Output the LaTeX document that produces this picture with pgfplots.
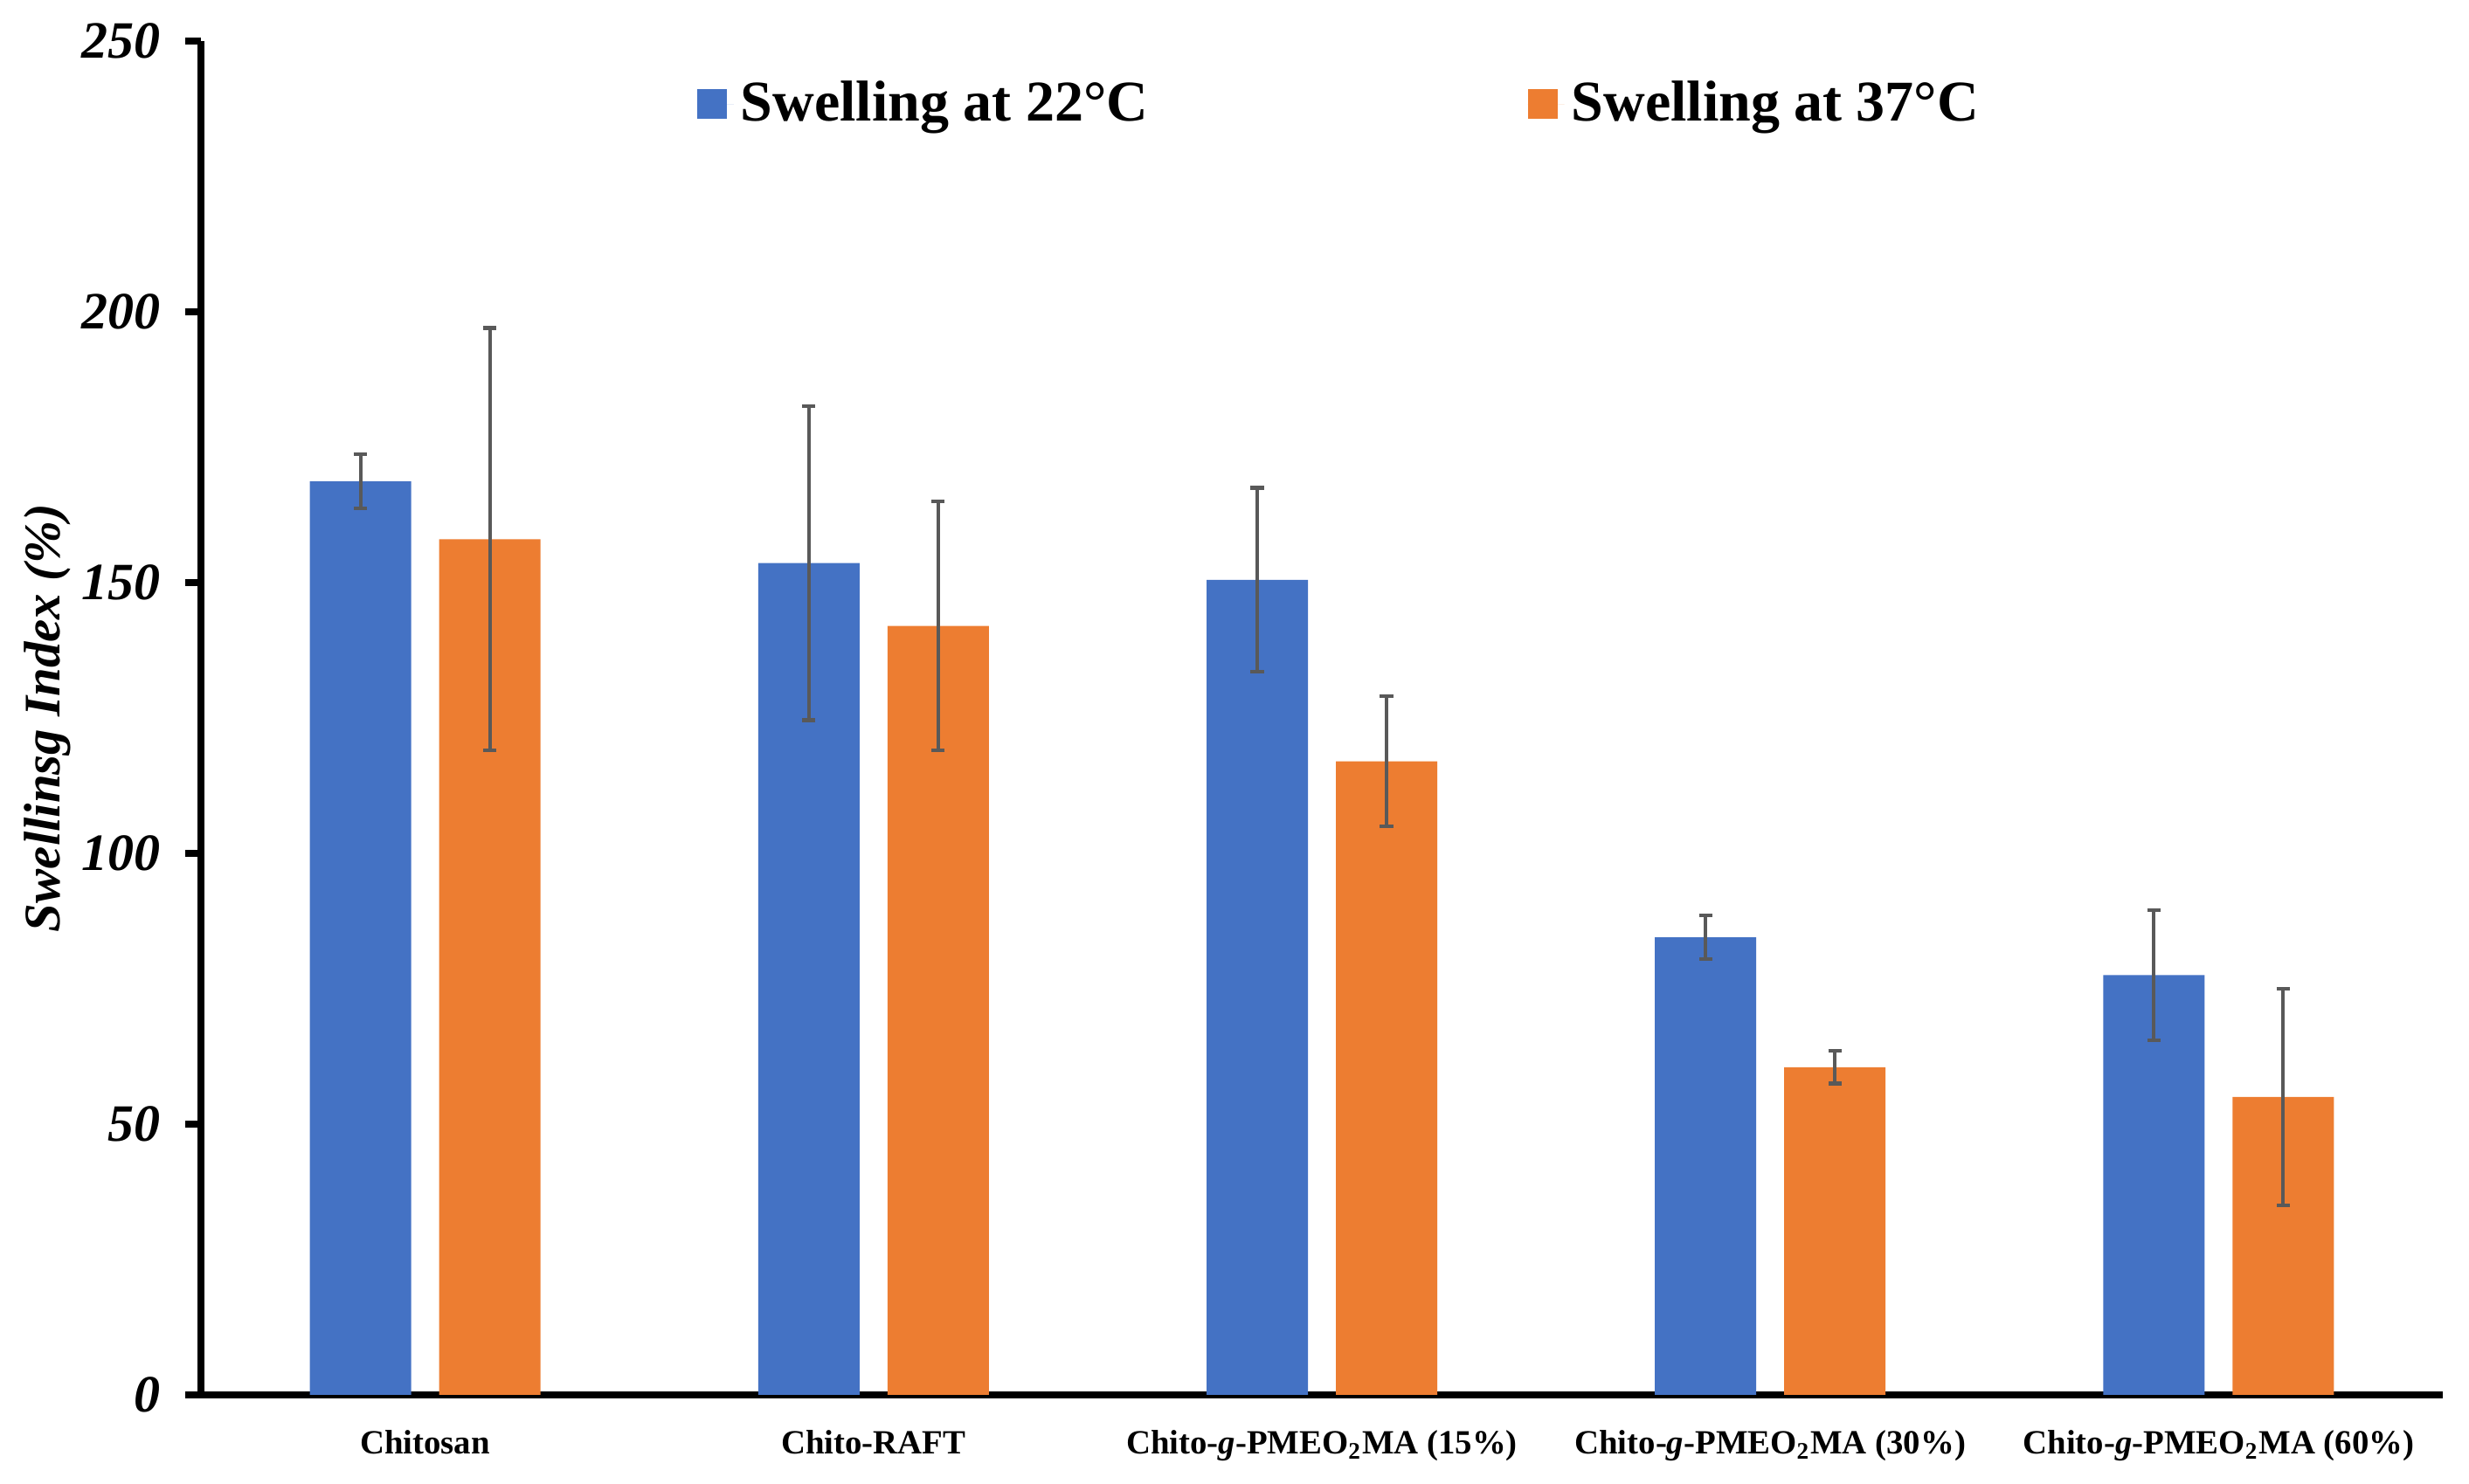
\documentclass[border=0pt]{standalone}
\usepackage{fontspec}
\setmainfont{Liberation Serif}
\usepackage{pgfplots}
\pgfplotsset{compat=1.18}
\definecolor{cblue}{HTML}{4472C4}
\definecolor{corange}{HTML}{ED7D31}
\definecolor{cerr}{HTML}{595959}
\begin{document}
\begin{tikzpicture}
\begin{axis}[
  name=ax,
  scale only axis, width=641.5pt, height=387.5pt,
  xmin=-0.5, xmax=4.5, ymin=0, ymax=250,
  axis x line=bottom, axis y line=left,
  axis line style={line width=2pt, -, black},
  x axis line style={shorten <=-4.5pt},
  xtick={0,1,2,3,4},
  xticklabels={Chitosan, Chito-RAFT, {Chito-\textit{g}-PMEO\textsubscript{2}MA (15\%)}, {Chito-\textit{g}-PMEO\textsubscript{2}MA (30\%)}, {Chito-\textit{g}-PMEO\textsubscript{2}MA (60\%)}},
  xtick style={draw=none},
  ytick={0,50,100,150,200,250},
  ytick style={line width=2pt, black},
  tick align=outside, major tick length=4.5pt,
  /pgf/number format/assume math mode=true,
  yticklabel style={font=\fontsize{15}{15}\selectfont\bfseries\itshape, xshift=-3.5pt},
  xticklabel style={font=\fontsize{9.7}{12}\selectfont\bfseries, anchor=north, yshift=-2pt},
  ylabel={Swellinsg Index (\%)},
  ylabel style={font=\fontsize{14.7}{14.7}\selectfont\bfseries\itshape, at={(axis description cs:-0.0686,0.5)}, anchor=center},
  ybar,
  error bars/y dir=both, error bars/y explicit,
  error bars/error mark=|,
  error bars/error bar style={line width=1pt, draw=cerr},
  error bars/error mark options={line width=1.1pt, draw=cerr, mark size=1.9pt},
  legend image code/.code={\fill[#1] (0pt,-4.25pt) rectangle (8.5pt,4.25pt); \path (0pt,0pt) -- (10.5pt,0pt);},
  legend columns=2,
  legend style={at={(axis description cs:0.221,0.9535)}, anchor=west, draw=none, fill=none, inner sep=0pt,
    font=\fontsize{16.5}{16.5}\selectfont\bfseries,
    /tikz/every even column/.append style={column sep=106.6pt}},
  legend cell align=left,
]
\addplot[fill=cblue, draw=none, bar width=29pt, bar shift=-18.5pt] coordinates {
  (0,168.7) +- (0,5)
  (1,153.6) +- (0,29)
  (2,150.5) +- (0,17)
  (3,84.5) +- (0,4)
  (4,77.5) +- (0,12)
};
\addplot[fill=corange, draw=none, bar width=29pt, bar shift=18.5pt] coordinates {
  (0,158) +- (0,39)
  (1,142) +- (0,23)
  (2,117) +- (0,12)
  (3,60.5) +- (0,3)
  (4,55) +- (0,20)
};
\legend{Swelling at 22°C, Swelling at 37°C}
\end{axis}
\pgfresetboundingbox
\path ([shift={(-57.5pt,-25.5pt)}]ax.south west) rectangle ([shift={(7.5pt,11.75pt)}]ax.north east);
\end{tikzpicture}
\end{document}
